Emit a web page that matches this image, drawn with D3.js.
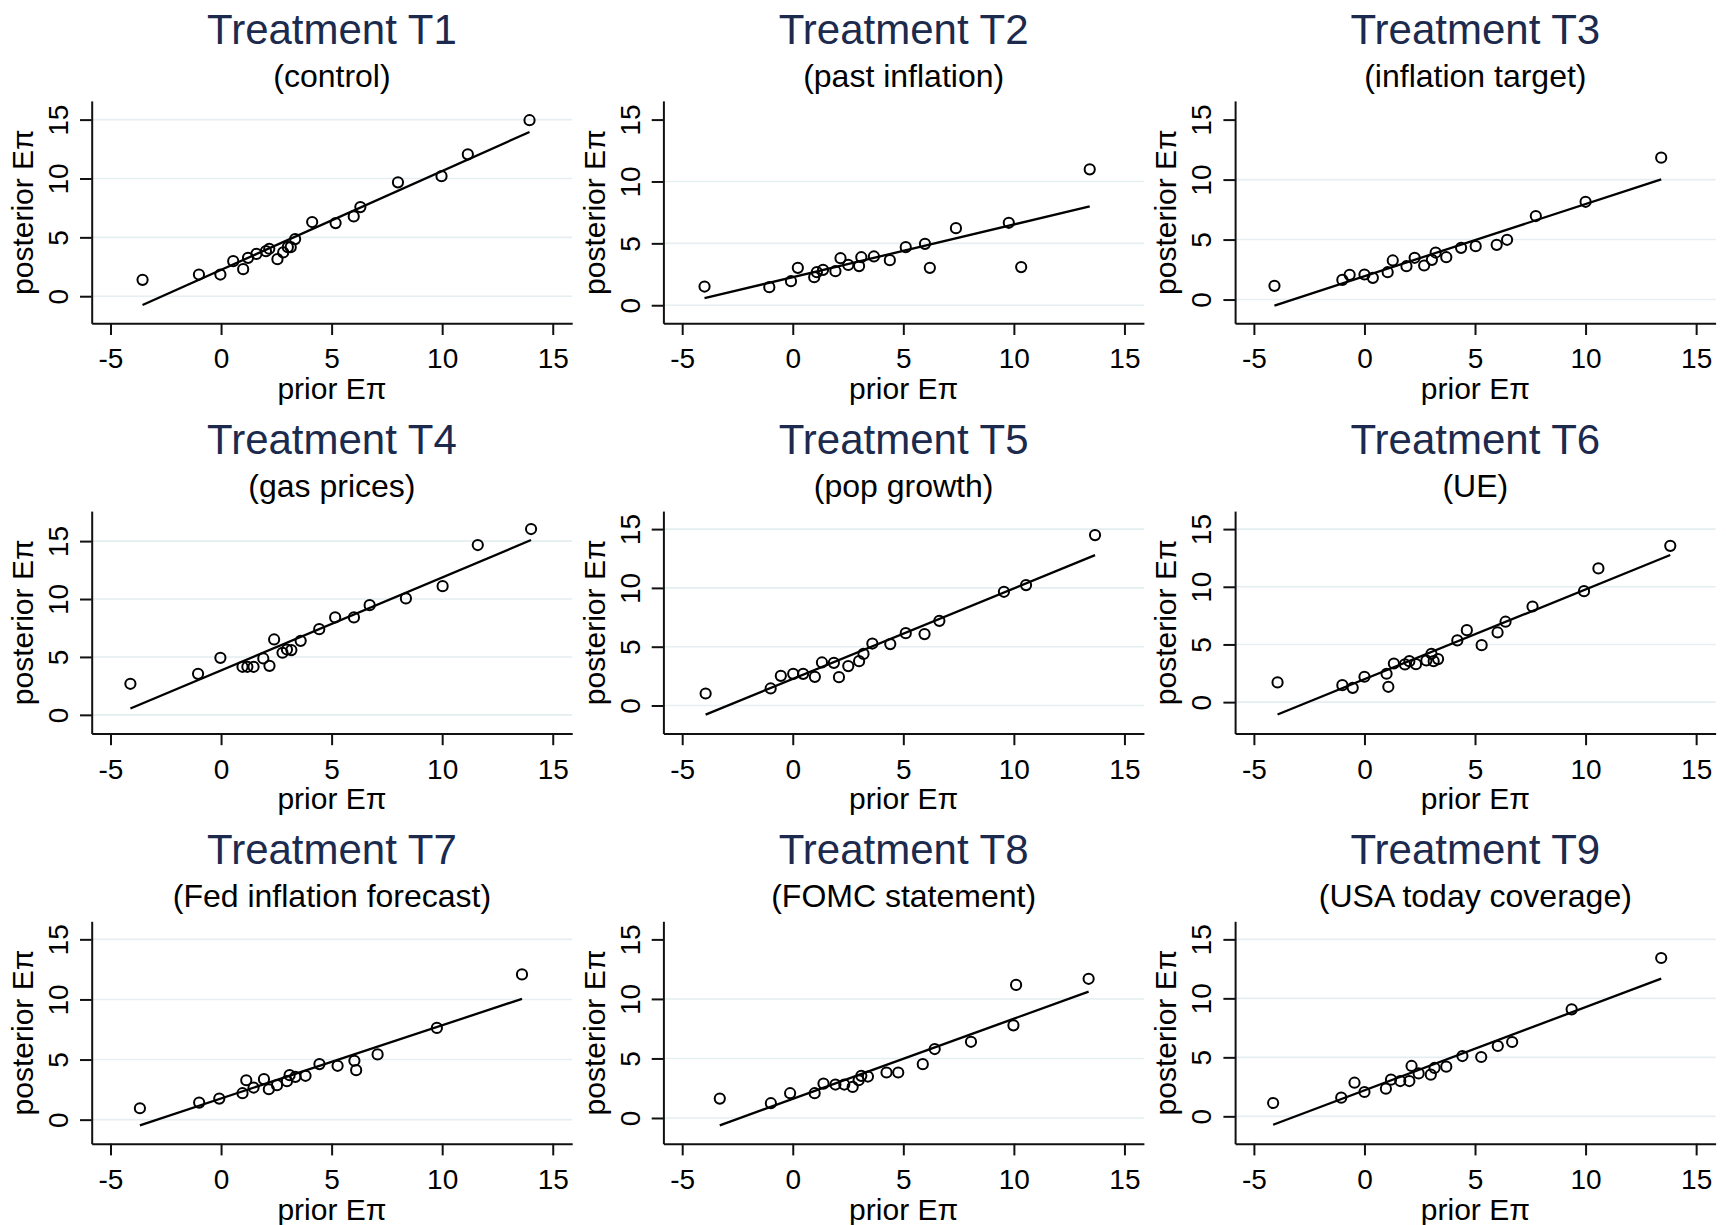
<!DOCTYPE html>
<html>
<head>
<meta charset="utf-8">
<script src="https://cdn.jsdelivr.net/npm/d3@7"></script>
<style>
  body { margin: 0; background: #fff; }
  text { font-family: "Liberation Sans", Arial, sans-serif; }
</style>
</head>
<body>
<script>
// treatment labels
const titles = ["Treatment T1", "Treatment T2", "Treatment T3", "Treatment T4", "Treatment T5",
  "Treatment T6", "Treatment T7", "Treatment T8", "Treatment T9"];
const subtitles = ["(control)", "(past inflation)", "(inflation target)", "(gas prices)", "(pop growth)",
  "(UE)", "(Fed inflation forecast)", "(FOMC statement)", "(USA today coverage)"];

// prior / posterior expected inflation
const priorT1 = [-3.55, -1.0, -0.03, 0.55, 1.0, 1.22, 1.6, 2.03, 2.18, 2.55, 2.81, 3.02, 3.15, 3.35, 4.12, 5.18, 6.0, 6.3, 8.0, 9.97, 11.16, 13.95];
const postT1  = [1.39, 1.84, 1.84, 2.98, 2.3, 3.26, 3.6, 3.83, 4.03, 3.15, 3.72, 4.17, 4.17, 4.85, 6.3, 6.21, 6.78, 7.57, 9.67, 10.2, 12.05, 14.95];

const priorT2 = [-3.99, -1.06, -0.08, 0.23, 0.97, 1.09, 1.37, 1.93, 2.16, 2.51, 3.0, 3.1, 3.67, 4.39, 5.11, 5.98, 6.2, 7.38, 9.77, 10.33, 13.43];
const postT2  = [1.51, 1.46, 1.94, 3.02, 2.27, 2.67, 2.86, 2.75, 3.8, 3.26, 3.16, 3.88, 3.94, 3.64, 4.69, 4.96, 3.02, 6.23, 6.66, 3.08, 10.98];

const priorT3 = [-4.07, -1.0, -0.67, 0.0, 0.38, 1.05, 1.28, 1.9, 2.27, 2.7, 3.05, 3.22, 3.7, 4.37, 5.03, 5.98, 6.45, 7.75, 10.0, 13.42];
const postT3  = [1.14, 1.64, 2.06, 2.09, 1.81, 2.28, 3.26, 2.78, 3.48, 2.84, 3.31, 3.92, 3.53, 4.31, 4.45, 4.56, 4.98, 6.96, 8.15, 11.83];

const priorT4 = [-4.1, -1.04, -0.03, 0.97, 1.19, 1.47, 1.91, 2.19, 2.4, 2.78, 2.98, 3.18, 3.6, 4.44, 5.16, 6.01, 6.72, 8.36, 10.02, 11.61, 14.02];
const postT4  = [2.68, 3.54, 4.92, 4.15, 4.15, 4.15, 4.87, 4.23, 6.51, 5.36, 5.64, 5.59, 6.39, 7.4, 8.41, 8.41, 9.47, 10.05, 11.11, 14.66, 16.04];

const priorT5 = [-3.94, -1.0, -0.54, 0.02, 0.47, 1.0, 1.32, 1.86, 2.09, 2.51, 3.0, 3.2, 3.6, 4.41, 5.11, 5.96, 6.63, 9.55, 10.55, 13.67];
const postT5  = [1.02, 1.45, 2.52, 2.69, 2.69, 2.44, 3.66, 3.63, 2.41, 3.35, 3.77, 4.39, 5.27, 5.22, 6.15, 6.07, 7.2, 9.67, 10.24, 14.49];

const priorT6 = [-3.93, -1.0, -0.53, 0.0, 1.0, 1.08, 1.33, 1.83, 2.03, 2.33, 2.8, 3.03, 3.13, 3.33, 4.2, 4.63, 5.3, 6.02, 6.38, 7.6, 9.93, 10.58, 13.83];
const postT6  = [1.71, 1.47, 1.24, 2.2, 2.46, 1.33, 3.35, 3.27, 3.55, 3.29, 3.61, 4.19, 3.55, 3.73, 5.35, 6.24, 4.94, 6.04, 6.97, 8.29, 9.62, 11.59, 13.55];

const priorT7 = [-3.67, -0.99, -0.08, 0.97, 1.14, 1.47, 1.94, 2.16, 2.53, 2.98, 3.1, 3.36, 3.82, 4.45, 5.27, 6.03, 6.11, 7.08, 9.76, 13.61];
const postT7  = [0.95, 1.42, 1.75, 2.2, 3.28, 2.67, 3.37, 2.53, 2.87, 3.2, 3.7, 3.56, 3.65, 4.62, 4.48, 4.9, 4.12, 5.43, 7.63, 12.08];

const priorT8 = [-3.3, -0.99, -0.12, 0.99, 1.39, 1.93, 2.33, 2.71, 2.98, 3.1, 3.4, 4.24, 4.77, 5.88, 6.42, 8.06, 9.98, 10.1, 13.38];
const postT8  = [1.63, 1.24, 2.08, 2.08, 2.89, 2.81, 2.81, 2.61, 3.17, 3.54, 3.48, 3.82, 3.82, 4.52, 5.79, 6.4, 7.78, 11.18, 11.69];

const priorT9 = [-4.13, -1.05, -0.45, 0.0, 0.97, 1.2, 1.62, 2.03, 2.13, 2.45, 3.0, 3.17, 3.7, 4.43, 5.28, 6.03, 6.68, 9.37, 13.42];
const postT9  = [1.13, 1.58, 2.85, 2.06, 2.34, 3.11, 2.99, 2.99, 4.27, 3.64, 3.53, 4.1, 4.21, 5.11, 5.03, 5.96, 6.3, 9.07, 13.42];

// fitted line: posterior value at lowest and highest prior
const fitLow  = [-0.74, 0.57, -0.5, 0.55, -0.77, -1.07, -0.47, -0.62, -0.71];
const fitHigh = [13.95, 7.98, 10.02, 15.09, 12.79, 12.75, 10.05, 10.62, 11.67];

// axis ranges and ticks
const xRange = [-5.85, 15.88];
const yRanges = [[-2.3, 16.59], [-1.46, 16.51], [-1.98, 16.56], [-1.61, 17.59], [-2.38, 16.53],
  [-2.72, 16.56], [-2.0, 16.5], [-2.16, 16.52], [-2.32, 16.53]];
const xTicks = [-5, 0, 5, 10, 15];
const yTicks = [0, 5, 10, 15];
const topGrid = [true, false, false, true, true, true, true, false, true];

const priors = [priorT1, priorT2, priorT3, priorT4, priorT5, priorT6, priorT7, priorT8, priorT9];
const posts = [postT1, postT2, postT3, postT4, postT5, postT6, postT7, postT8, postT9];

const width = 1726;
const height = 1225;
const left0 = 91.7, top0 = 100.9, colStep = 571.7, rowStep = 410.2;
const pw = 480.5, ph = 222.4;

const svg = d3.select("body").append("svg")
  .attr("width", width)
  .attr("height", height);

svg.append("rect").attr("width", width).attr("height", height).attr("fill", "#fff");

titles.forEach((title, i) => {
  const col = i % 3;
  const row = Math.floor(i / 3);
  const g = svg.append("g")
    .attr("transform", `translate(${left0 + col * colStep},${top0 + row * rowStep})`);

  const x = d3.scaleLinear().domain(xRange).range([0, pw]);
  const y = d3.scaleLinear().domain(yRanges[i]).range([ph, 0]);

  // gridlines
  const grids = yTicks.filter((t) => t < 15 || topGrid[i]);
  g.selectAll(".grid")
    .data(grids)
    .enter()
    .append("line")
    .attr("x1", 0)
    .attr("x2", pw)
    .attr("y1", (d) => y(d))
    .attr("y2", (d) => y(d))
    .attr("stroke", "#e5eef1")
    .attr("stroke-width", 1.6);

  // fit line
  const ext = d3.extent(priors[i]);
  g.append("line")
    .attr("x1", x(ext[0]))
    .attr("y1", y(fitLow[i]))
    .attr("x2", x(ext[1]))
    .attr("y2", y(fitHigh[i]))
    .attr("stroke", "#000")
    .attr("stroke-width", 2.3);

  // points
  g.selectAll(".pt")
    .data(priors[i].map((p, j) => [p, posts[i][j]]))
    .enter()
    .append("circle")
    .attr("cx", (d) => x(d[0]))
    .attr("cy", (d) => y(d[1]))
    .attr("r", 5.1)
    .attr("fill", "none")
    .attr("stroke", "#000")
    .attr("stroke-width", 2);

  // x axis
  const xAxis = g.append("g")
    .attr("transform", `translate(0,${ph})`)
    .call(d3.axisBottom(x).tickValues(xTicks).tickSize(11.7).tickSizeOuter(0).tickFormat((d) => String(d)));
  xAxis.selectAll("text")
    .attr("y", 45)
    .attr("dy", 0)
    .attr("font-size", 28)
    .attr("fill", "#000");

  // y axis
  const yAxis = g.append("g")
    .call(d3.axisLeft(y).tickValues(yTicks).tickSize(11.7).tickSizeOuter(0).tickFormat((d) => String(d)));
  yAxis.selectAll("text")
    .attr("x", 0)
    .attr("dy", 0)
    .attr("text-anchor", "middle")
    .attr("transform", "translate(-23.7,0) rotate(-90)")
    .attr("font-size", 28)
    .attr("fill", "#000");

  [xAxis, yAxis].forEach((a) => {
    a.select(".domain").attr("stroke", "#111").attr("stroke-width", 2);
    a.selectAll(".tick line").attr("stroke", "#111").attr("stroke-width", 2);
  });

  // titles
  g.append("text")
    .attr("x", pw / 2)
    .attr("y", -56.9)
    .attr("text-anchor", "middle")
    .attr("font-size", 42)
    .attr("fill", "#1c2a4e")
    .text(title);

  g.append("text")
    .attr("x", pw / 2)
    .attr("y", -14.2)
    .attr("text-anchor", "middle")
    .attr("font-size", 32)
    .attr("fill", "#000")
    .text(subtitles[i]);

  g.append("text")
    .attr("x", pw / 2)
    .attr("y", ph + 76)
    .attr("text-anchor", "middle")
    .attr("font-size", 30)
    .attr("fill", "#000")
    .text("prior Eπ");

  g.append("text")
    .attr("transform", `translate(-58.7,${ph / 2}) rotate(-90)`)
    .attr("text-anchor", "middle")
    .attr("font-size", 30)
    .attr("fill", "#000")
    .text("posterior Eπ");
});
</script>
</body>
</html>
